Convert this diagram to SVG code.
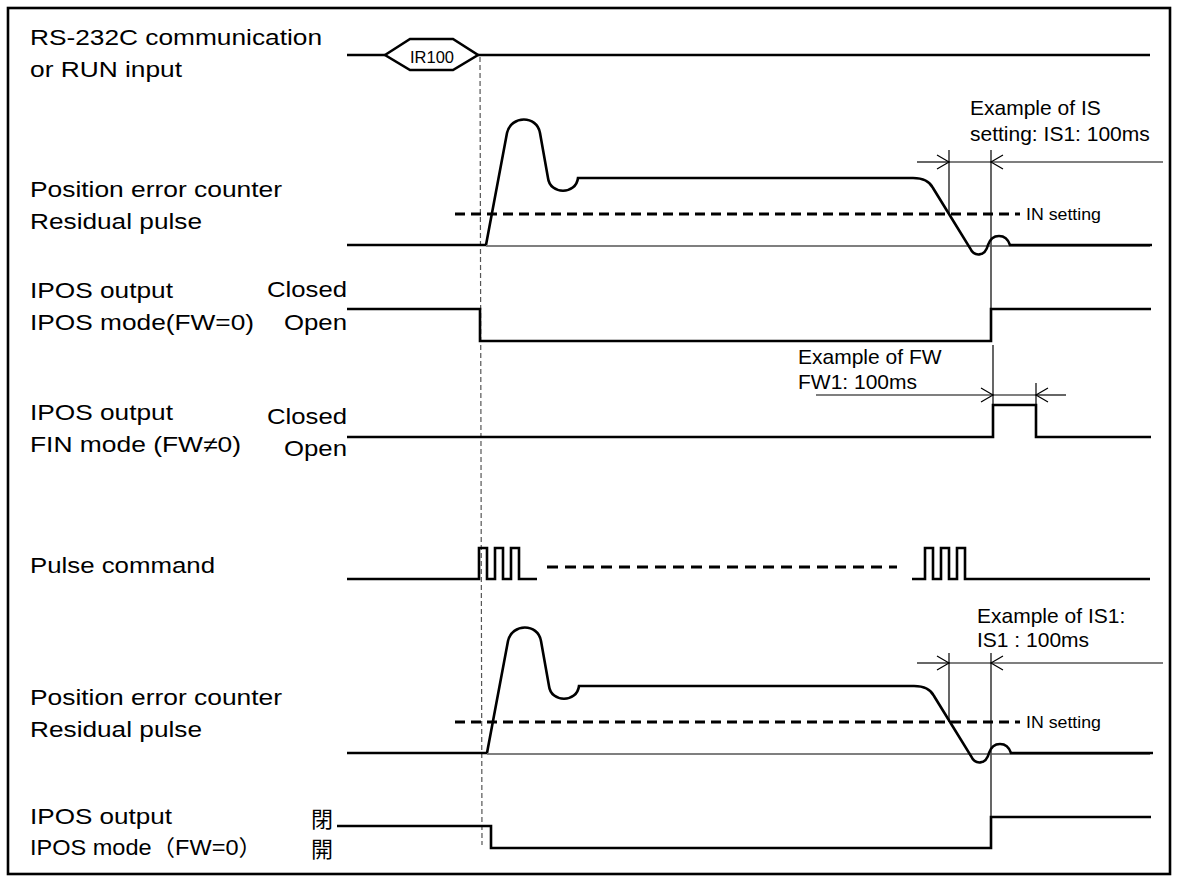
<svg xmlns="http://www.w3.org/2000/svg" width="1178" height="879" viewBox="0 0 1178 879">
<style>
text{font-family:"Liberation Sans",Arial,"Noto Sans CJK JP",sans-serif;fill:#000}
.lbl{font-size:22px}
.ex{font-size:21px}
.sm{font-size:17px}
.w{fill:none;stroke:#000;stroke-width:2.6;stroke-linejoin:miter}
.thin{fill:none;stroke:#000;stroke-width:1.2}
.base{fill:none;stroke:#555;stroke-width:1.3}
.dash{fill:none;stroke:#000;stroke-width:3;stroke-dasharray:10 6}
.pdash{fill:none;stroke:#000;stroke-width:3;stroke-dasharray:11 7}
.vdash{fill:none;stroke:#555;stroke-width:1.2;stroke-dasharray:5 3}
</style>
<defs>
<marker id="ah" markerUnits="userSpaceOnUse" markerWidth="16" markerHeight="18" viewBox="-14 -9 16 18" refX="0" refY="0" orient="auto">
<path d="M-12,-7 L0,0 L-12,7" fill="none" stroke="#000" stroke-width="1.2"/>
</marker>
<path id="res" d="M486,245 L507,133 C511,115 537,115 540,133 L548,178 C550,195 576,195 578,178 L913,178 C925,178 930,182 933,188 L970,248 C974,257 985,257 988,245 C992,233 1006,233 1010,245 L1152,245"/>
</defs>
<rect x="8" y="8" width="1162" height="866" fill="none" stroke="#000" stroke-width="2.6"/>

<g id="connectors">
<line class="vdash" x1="480" y1="57" x2="482" y2="845"/>
<line class="thin" x1="949" y1="150" x2="949" y2="214"/>
<line class="thin" x1="991" y1="150" x2="991" y2="309"/>
<line class="thin" x1="917" y1="162" x2="949" y2="162" marker-end="url(#ah)"/>
<line class="thin" x1="949" y1="162" x2="991" y2="162"/>
<line class="thin" x1="1163" y1="162" x2="991" y2="162" marker-end="url(#ah)"/>
<line class="thin" x1="993" y1="345" x2="993" y2="405"/>
<line class="thin" x1="1036" y1="383" x2="1036" y2="405"/>
<line class="thin" x1="816" y1="395" x2="993" y2="395" marker-end="url(#ah)"/>
<line class="thin" x1="993" y1="395" x2="1036" y2="395"/>
<line class="thin" x1="1066" y1="395" x2="1036" y2="395" marker-end="url(#ah)"/>
<line class="thin" x1="949" y1="653" x2="949" y2="722"/>
<line class="thin" x1="991" y1="653" x2="991" y2="817"/>
<line class="thin" x1="917" y1="663" x2="949" y2="663" marker-end="url(#ah)"/>
<line class="thin" x1="949" y1="663" x2="991" y2="663"/>
<line class="thin" x1="1163" y1="663" x2="991" y2="663" marker-end="url(#ah)"/>
</g>

<g id="row-rs232c">
<text class="lbl" x="30" y="45" textLength="292" lengthAdjust="spacingAndGlyphs">RS-232C communication</text>
<text class="lbl" x="30" y="77" textLength="152" lengthAdjust="spacingAndGlyphs">or RUN input</text>
<line class="w" x1="347" y1="55" x2="385" y2="55"/>
<polygon class="w" points="385,55 410,39 453,39 478,55 453,70 410,70"/>
<line class="w" x1="478" y1="55" x2="1150" y2="55"/>
<text class="sm" x="432" y="63" text-anchor="middle" textLength="44" lengthAdjust="spacingAndGlyphs">IR100</text>
</g>

<g id="row-residual-1">
<text class="lbl" x="30" y="197" textLength="252" lengthAdjust="spacingAndGlyphs">Position error counter</text>
<text class="lbl" x="30" y="229" textLength="172" lengthAdjust="spacingAndGlyphs">Residual pulse</text>
<line class="base" x1="486" y1="246" x2="1150" y2="246"/>
<line class="dash" x1="455" y1="214" x2="1020" y2="214"/>
<path class="w" d="M347,245 L486,245"/>
<use href="#res" class="w"/>
<text class="sm" x="1026" y="220" textLength="75" lengthAdjust="spacingAndGlyphs">IN setting</text>
<text class="ex" x="970" y="115">Example of IS</text>
<text class="ex" x="970" y="141">setting: IS1: 100ms</text>
</g>

<g id="row-ipos-1">
<text class="lbl" x="30" y="298" textLength="143" lengthAdjust="spacingAndGlyphs">IPOS output</text>
<text class="lbl" x="30" y="330" textLength="224" lengthAdjust="spacingAndGlyphs">IPOS mode(FW=0)</text>
<text class="lbl" x="347" y="297" text-anchor="end" textLength="80" lengthAdjust="spacingAndGlyphs">Closed</text>
<text class="lbl" x="347" y="330" text-anchor="end" textLength="63" lengthAdjust="spacingAndGlyphs">Open</text>
<path class="w" d="M347,309 L480,309 L480,341 L991,341 L991,309 L1151,309"/>
</g>

<g id="row-fin">
<text class="ex" x="798" y="364">Example of FW</text>
<text class="ex" x="798" y="389">FW1: 100ms</text>
<text class="lbl" x="30" y="420" textLength="143" lengthAdjust="spacingAndGlyphs">IPOS output</text>
<text class="lbl" x="30" y="452" textLength="211" lengthAdjust="spacingAndGlyphs">FIN mode (FW≠0)</text>
<text class="lbl" x="347" y="424" text-anchor="end" textLength="80" lengthAdjust="spacingAndGlyphs">Closed</text>
<text class="lbl" x="347" y="456" text-anchor="end" textLength="63" lengthAdjust="spacingAndGlyphs">Open</text>
<path class="w" d="M347,437 L993,437 L993,405 L1036,405 L1036,437 L1151,437"/>
</g>

<g id="row-pulse">
<text class="lbl" x="30" y="573" textLength="185" lengthAdjust="spacingAndGlyphs">Pulse command</text>
<path class="w" d="M347,579 L479,579 L479,548 L487,548 L487,579 L495,579 L495,548 L503,548 L503,579 L511,579 L511,548 L519,548 L519,579 L537,579"/>
<line class="pdash" x1="547" y1="567" x2="897" y2="567"/>
<path class="w" d="M912,579 L925,579 L925,548 L933,548 L933,579 L941,579 L941,548 L949,548 L949,579 L957,579 L957,548 L965,548 L965,579 L1150,579"/>
</g>

<g id="row-residual-2">
<text class="lbl" x="30" y="705" textLength="252" lengthAdjust="spacingAndGlyphs">Position error counter</text>
<text class="lbl" x="30" y="737" textLength="172" lengthAdjust="spacingAndGlyphs">Residual pulse</text>
<line class="base" x1="487" y1="754" x2="1150" y2="754"/>
<line class="dash" x1="455" y1="722" x2="1020" y2="722"/>
<path class="w" d="M347,753 L487,753"/>
<use href="#res" class="w" transform="translate(1,508)"/>
<text class="sm" x="1026" y="728" textLength="75" lengthAdjust="spacingAndGlyphs">IN setting</text>
<text class="ex" x="977" y="623">Example of IS1:</text>
<text class="ex" x="977" y="647">IS1 : 100ms</text>
</g>

<g id="row-ipos-2">
<text class="lbl" x="30" y="824" textLength="142" lengthAdjust="spacingAndGlyphs">IPOS output</text>
<text class="lbl" x="30" y="855" textLength="232" lengthAdjust="spacingAndGlyphs">IPOS mode（FW=0）</text>
<text class="lbl" x="311" y="827">閉</text>
<text class="lbl" x="311" y="857">開</text>
<path class="w" d="M337,826 L491,826 L491,848 L991,848 L991,817 L1151,817"/>
</g>
</svg>
